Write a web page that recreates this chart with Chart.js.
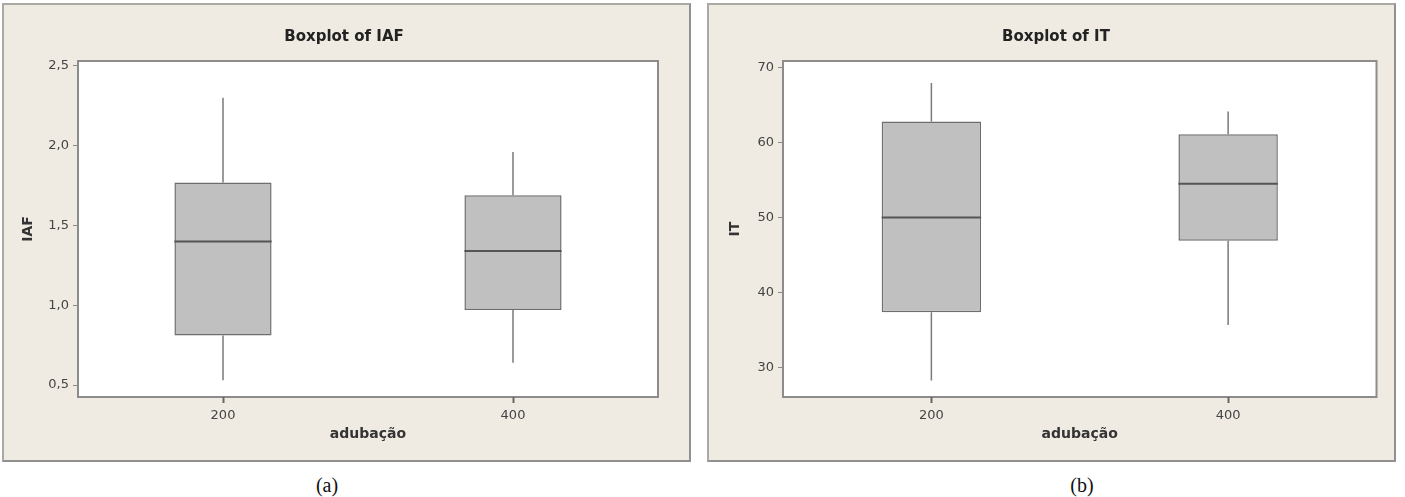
<!DOCTYPE html>
<html>
<head>
<meta charset="utf-8">
<script src="https://cdn.jsdelivr.net/npm/chart.js@4.4.1/dist/chart.umd.min.js"></script>
<style>
  body { margin: 0; background: #fff; width: 1405px; height: 497px; position: relative; overflow: hidden; }
  .panel { position: absolute; top: 3px; width: 689px; height: 459px; box-sizing: border-box;
           background: #efebe2; border: 2px solid #aaa9a4; border-right-color: #909090; border-bottom-color: #909090; }
  canvas { position: absolute; top: 0; }
  .cap { position: absolute; top: 474px; font-family: "Liberation Serif", serif; font-size: 20px; color: #111;
         transform: translateX(-50%); }
</style>
</head>
<body>
<div class="panel" style="left:2px"></div>
<div class="panel" style="left:707px"></div>
<canvas id="chartIAF" width="688" height="470" style="left:0"></canvas>
<canvas id="chartIT" width="702" height="470" style="left:705px"></canvas>
<div class="cap" style="left:327px">(a)</div>
<div class="cap" style="left:1082px">(b)</div>
<script>
const categories = ['200', '400'];

// IAF per adubação
const iafMin = [0.53, 0.64];
const iafQ1 = [0.81, 0.97];
const iafMedian = [1.40, 1.34];
const iafQ3 = [1.77, 1.69];
const iafMax = [2.30, 1.96];
const iafTicks = [0.5, 1.0, 1.5, 2.0, 2.5];

// IT per adubação
const itMin = [28.3, 35.7];
const itQ1 = [37.4, 46.9];
const itMedian = [50.0, 54.5];
const itQ3 = [62.8, 61.1];
const itMax = [67.9, 64.1];
const itTicks = [30, 40, 50, 60, 70];

// frame, whiskers and median lines
const boxPlotPlugin = {
    id: 'boxPlot',
    beforeDraw(chart) {
        const { ctx, chartArea: a } = chart;
        ctx.save();
        ctx.fillStyle = '#ffffff';
        ctx.fillRect(a.left, a.top, a.width, a.height);
        ctx.strokeStyle = '#8c8c8c';
        ctx.lineWidth = 2;
        ctx.strokeRect(a.left, a.top, a.width, a.height);
        ctx.restore();
    },
    beforeDatasetsDraw(chart, args, opts) {
        const { ctx } = chart;
        const y = chart.scales.y;
        const meta = chart.getDatasetMeta(0);
        ctx.save();
        ctx.strokeStyle = '#7a7a7a';
        ctx.lineWidth = 1.5;
        meta.data.forEach((bar, i) => {
            ctx.beginPath();
            ctx.moveTo(bar.x, y.getPixelForValue(opts.q3[i]));
            ctx.lineTo(bar.x, y.getPixelForValue(opts.max[i]));
            ctx.moveTo(bar.x, y.getPixelForValue(opts.q1[i]));
            ctx.lineTo(bar.x, y.getPixelForValue(opts.min[i]));
            ctx.stroke();
        });
        ctx.restore();
    },
    afterDatasetsDraw(chart, args, opts) {
        const { ctx } = chart;
        const y = chart.scales.y;
        const meta = chart.getDatasetMeta(0);
        ctx.save();
        ctx.strokeStyle = '#555555';
        ctx.lineWidth = 2;
        meta.data.forEach((bar, i) => {
            const py = y.getPixelForValue(opts.median[i]);
            ctx.beginPath();
            ctx.moveTo(bar.x - bar.width / 2, py);
            ctx.lineTo(bar.x + bar.width / 2, py);
            ctx.stroke();
        });
        ctx.restore();
    }
};

// pad: side paddings of the canvas, axisW: y axis width, yTitlePad: y title offset
function boxChart(id, title, yLabel, stats, yTicks, yMin, yMax, fmt, pad, axisW, yTitlePad) {
    const ctx = document.getElementById(id).getContext('2d');
    return new Chart(ctx, {
        type: 'bar',
        data: {
            labels: categories,
            datasets: [{
                data: categories.map((c, i) => [stats.q1[i], stats.q3[i]]),
                backgroundColor: '#c0c0c0',
                borderColor: '#6e6e6e',
                borderWidth: 1.5,
                borderSkipped: false,
                barPercentage: 0.335,
                categoryPercentage: 1
            }]
        },
        options: {
            responsive: false,
            animation: false,
            layout: { padding: { left: pad, top: 0, bottom: 0, right: pad } },
            plugins: {
                legend: { display: false },
                tooltip: { enabled: false },
                title: {
                    display: true,
                    text: title,
                    color: '#222',
                    font: { family: 'DejaVu Sans', size: 15, weight: 'bold' },
                    padding: { top: 28, bottom: 15 }
                },
                boxPlot: stats
            },
            scales: {
                x: {
                    offset: true,
                    grid: { offset: false, drawOnChartArea: false, tickLength: 6, tickColor: '#666', tickWidth: 2 },
                    border: { display: false },
                    ticks: { color: '#444', padding: 5, font: { family: 'DejaVu Sans', size: 13 } },
                    title: {
                        display: true, text: 'adubação', color: '#333',
                        font: { family: 'DejaVu Sans', size: 14, weight: 'bold' },
                        padding: { top: 0, bottom: 27.6 }
                    },
                    afterFit: s => { s.height = 73; }
                },
                y: {
                    min: yMin,
                    max: yMax,
                    grid: { drawOnChartArea: false, tickLength: 5, tickColor: '#8a8a8a', tickWidth: 1 },
                    border: { display: false },
                    ticks: { color: '#444', padding: 4, font: { family: 'DejaVu Sans', size: 13 }, callback: fmt },
                    afterBuildTicks: s => { s.ticks = yTicks.map(v => ({ value: v })); },
                    title: {
                        display: true, text: yLabel, color: '#333',
                        font: { family: 'DejaVu Sans', size: 14, weight: 'bold' },
                        padding: { top: yTitlePad, bottom: 0 }
                    },
                    afterFit: s => { s.width = axisW; }
                }
            }
        },
        plugins: [boxPlotPlugin]
    });
}

boxChart('chartIAF', 'Boxplot of IAF', 'IAF',
    { min: iafMin, q1: iafQ1, median: iafMedian, q3: iafQ3, max: iafMax },
    iafTicks, 0.425, 2.531, v => v.toFixed(1).replace('.', ','), 30, 48, -10.4);

boxChart('chartIT', 'Boxplot of IT', 'IT',
    { min: itMin, q1: itQ1, median: itMedian, q3: itQ3, max: itMax },
    itTicks, 26.1, 70.84, v => String(v), 30.5, 47.5, -8.9);
</script>
</body>
</html>
